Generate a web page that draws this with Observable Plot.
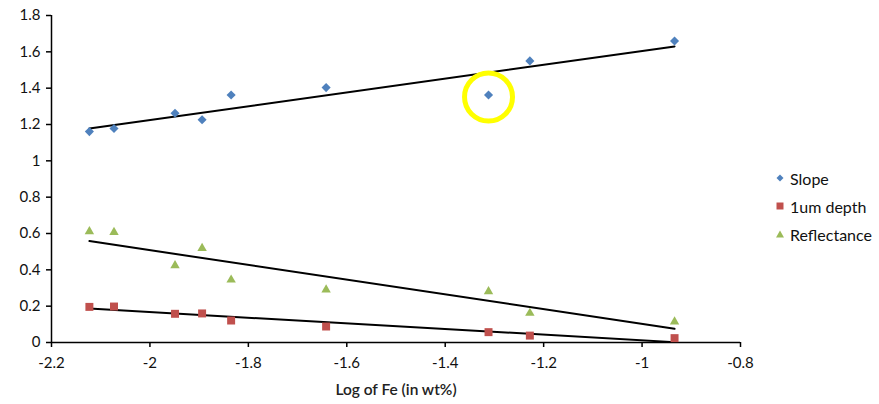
<!DOCTYPE html>
<html>
<head>
<meta charset="utf-8">
<script src="https://cdn.jsdelivr.net/npm/d3@7"></script>
<script src="https://cdn.jsdelivr.net/npm/@observablehq/plot@0.6"></script>
<style>
  html, body { margin: 0; padding: 0; background: #fff; }
  #wrap { position: relative; width: 879px; height: 404px; font-family: Lato, "Open Sans", sans-serif; }
  #legend { position: absolute; left: 774px; top: 164px; font-size: 16px; color: #111; }
  #legend .row { display: flex; align-items: center; height: 28px; }
  #legend svg { width: 12px; height: 12px; margin-right: 4px; }
</style>
</head>
<body>
<div id="wrap"><div id="chart"></div><div id="legend"></div></div>
<script>
// Data
const logFe = [-2.123, -2.073, -1.949, -1.894, -1.835, -1.642, -1.312, -1.228, -0.934];
const slope = [1.161, 1.178, 1.262, 1.226, 1.362, 1.403, 1.362, 1.550, 1.660];
const depth = [0.196, 0.198, 0.158, 0.160, 0.121, 0.088, 0.057, 0.038, 0.024];
const reflectance = [0.611, 0.607, 0.424, 0.519, 0.345, 0.290, 0.281, 0.162, 0.114];
const seriesNames = ["Slope", "1um depth", "Reflectance"];
const seriesColors = ["#4F81BD", "#C0504D", "#9BBB59"];
const highlightIndex = 6; // circled Slope point
const xTicks = [-2.2, -2, -1.8, -1.6, -1.4, -1.2, -1, -0.8];
const yTicks = [0, 0.2, 0.4, 0.6, 0.8, 1, 1.2, 1.4, 1.6, 1.8];
const xLabel = "Log of Fe (in wt%)";

const mk = (vals) => logFe.map((x, i) => ({x, y: vals[i]}));
const sSlope = mk(slope), sDepth = mk(depth), sRefl = mk(reflectance);
const highlight = [sSlope[highlightIndex]];

const plot = Plot.plot({
  width: 879,
  height: 404,
  marginLeft: 51,
  marginRight: 139,
  marginTop: 15,
  marginBottom: 62,
  style: {fontFamily: "Lato, 'Open Sans', sans-serif", fontSize: "15px", color: "#111", background: "#fff"},
  x: {domain: [-2.2, -0.8]},
  y: {domain: [0, 1.8]},
  marks: [
    Plot.axisX({ticks: xTicks, tickFormat: d => String(d), tickSize: 5, tickPadding: 10, label: null, stroke: "#000", strokeWidth: 1.5}),
    Plot.axisY({ticks: yTicks, tickFormat: d => String(d), tickSize: 5, tickPadding: 6, label: null, stroke: "#000", strokeWidth: 1.5}),
    Plot.ruleX([-2.2], {stroke: "#000", strokeWidth: 1.5}),
    Plot.ruleY([0], {stroke: "#000", strokeWidth: 1.5}),
    Plot.text([xLabel], {frameAnchor: "bottom", dy: 52, text: d => d, fontWeight: 600, fontSize: 15.5, fill: "#222"}),
    Plot.linearRegressionY(sSlope, {x: "x", y: "y", ci: 0, stroke: "#000", strokeWidth: 2, clip: true}),
    Plot.linearRegressionY(sDepth, {x: "x", y: "y", ci: 0, stroke: "#000", strokeWidth: 2, clip: true}),
    Plot.linearRegressionY(sRefl, {x: "x", y: "y", ci: 0, stroke: "#000", strokeWidth: 2, clip: true}),
    Plot.dot(sSlope, {x: "x", y: "y", symbol: "diamond2", r: 4.1, fill: seriesColors[0], stroke: "none"}),
    Plot.dot(sDepth, {x: "x", y: "y", symbol: "square", r: 4.5, fill: seriesColors[1], stroke: "none"}),
    Plot.dot(sRefl, {x: "x", y: "y", symbol: "triangle", r: 3.5, fill: seriesColors[2], stroke: "none"}),
    Plot.dot(highlight, {x: "x", y: "y", r: 24, stroke: "#FFFF00", strokeWidth: 5, fill: "none", dy: 2})
  ]
});
document.getElementById("chart").appendChild(plot);

// Legend
const symbolPaths = [
  "M6,2.5L9.5,6L6,9.5L2.5,6Z",
  "M2.5,2.5H9.5V9.5H2.5Z",
  "M6,2.5L10,9.5H2Z"
];
const legend = document.getElementById("legend");
seriesNames.forEach((name, i) => {
  const row = document.createElement("div");
  row.className = "row";
  row.innerHTML = `<svg viewBox="0 0 12 12"><path d="${symbolPaths[i]}" fill="${seriesColors[i]}"/></svg><span>${name}</span>`;
  legend.appendChild(row);
});
</script>
</body>
</html>
